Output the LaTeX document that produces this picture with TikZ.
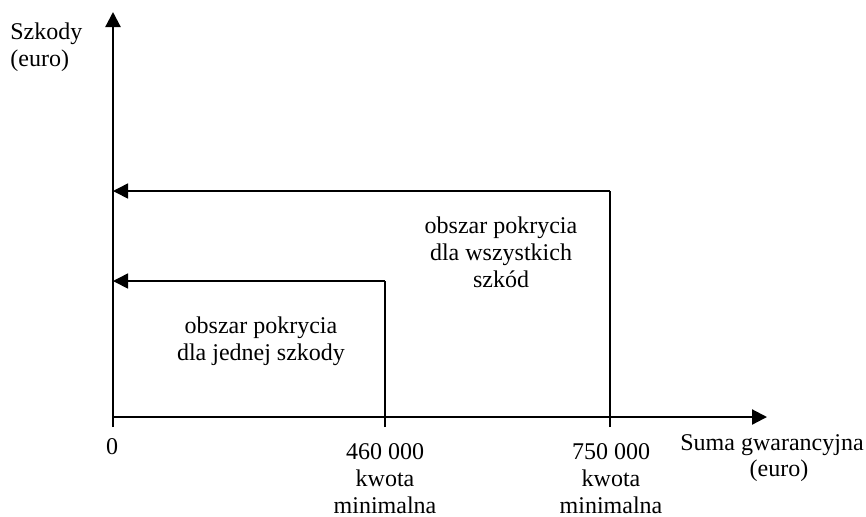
\documentclass[tikz,border=0pt]{standalone}
\usepackage{fontspec}
\setmainfont{Liberation Serif}
\usetikzlibrary{arrows.meta}
\begin{document}
\begin{tikzpicture}[x=0.5pt,y=-0.5pt,
  axis/.style={line width=1.1pt,-{Triangle[length=7.5pt,width=7.5pt]}},
  rangearrow/.style={line width=0.8pt,-{Triangle[length=7.5pt,width=7.5pt]}},
  limitline/.style={line width=0.9pt},
  lbl/.style={inner sep=0pt,font=\fontsize{12}{13.5}\selectfont,align=center,anchor=base},
  lbll/.style={inner sep=0pt,font=\fontsize{12}{13.5}\selectfont,align=left,anchor=base west}]
\useasboundingbox (0,0) rectangle (866,516);
% coordinates
\coordinate (o) at (113,417);
\coordinate (ybot) at (113,427);
\coordinate (ytop) at (113,12);
\coordinate (xend) at (767,417);
\coordinate (a1top) at (385,281);
\coordinate (a1bot) at (385,427);
\coordinate (a1end) at (113,281);
\coordinate (a2top) at (610,191);
\coordinate (a2bot) at (610,427);
\coordinate (a2end) at (113,191);
% axes
\draw[axis] (ybot) -- (ytop);
\draw[axis] (o) -- (xend);
% coverage lines
\draw[limitline] (a1bot) -- (a1top);
\draw[rangearrow] (a1top) -- (a1end);
\draw[limitline] (a2bot) -- (a2top);
\draw[rangearrow] (a2top) -- (a2end);
% labels
\node[lbll] (ylab) at (10,66) {Szkody\\(euro)};
\node[lbl] (zero) at (112,454) {0};
\node[lbl] (v1) at (385,513) {460 000\\kwota\\minimalna};
\node[lbl] (v2) at (611,513) {750 000\\kwota\\minimalna};
\node[lbl] (xlab1) at (772,450) {Suma gwarancyjna};
\node[lbl] (xlab2) at (779,476) {(euro)};
\node[lbl] (r1) at (261,360) {obszar pokrycia\\dla jednej szkody};
\node[lbl] (r2) at (501,287) {obszar pokrycia\\dla wszystkich\\szkód};
\end{tikzpicture}
\end{document}
